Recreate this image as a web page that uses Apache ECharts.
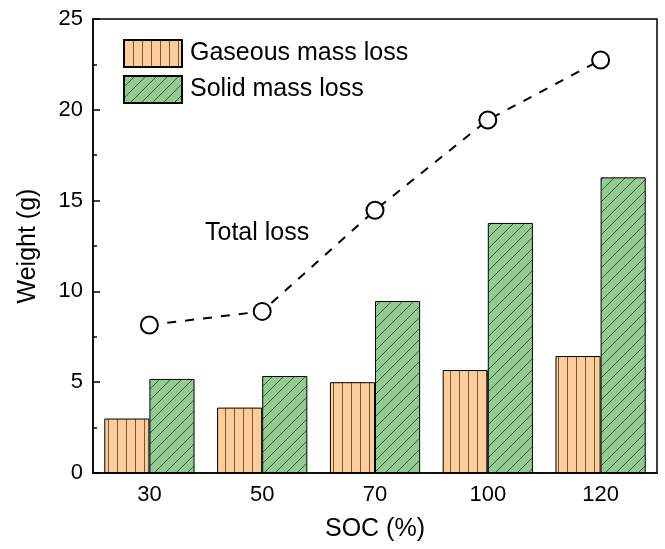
<!DOCTYPE html>
<html><head><meta charset="utf-8">
<script src="https://cdn.jsdelivr.net/npm/echarts@6/dist/echarts.min.js"></script>
<style>html,body{margin:0;padding:0;background:#fff}#c{width:665px;height:549px}</style>
</head><body><div id="c"></div>
<script>
const categories = ['30', '50', '70', '100', '120'];
const gaseous = [3.0, 3.6, 5.0, 5.67, 6.44];
const solid = [5.18, 5.34, 9.47, 13.77, 16.28];
const total = [8.15, 8.9, 14.47, 19.44, 22.74];
const yTicks = [0, 5, 10, 15, 20, 25];

function vertPattern() {
  const c = document.createElement('canvas');
  c.width = 9; c.height = 9;
  const g = c.getContext('2d');
  g.fillStyle = '#FECC99'; g.fillRect(0, 0, 9, 9);
  g.strokeStyle = '#6b5a48'; g.lineWidth = 1;
  g.beginPath(); g.moveTo(0.5, 0); g.lineTo(0.5, 9); g.stroke();
  return c;
}
function diagPattern() {
  const s = 11;
  const c = document.createElement('canvas');
  c.width = s; c.height = s;
  const g = c.getContext('2d');
  g.fillStyle = '#93CC93'; g.fillRect(0, 0, s, s);
  g.strokeStyle = '#3c5a3c'; g.lineWidth = 1;
  g.beginPath();
  g.moveTo(0, s); g.lineTo(s, 0);
  g.moveTo(-1, 1); g.lineTo(1, -1);
  g.moveTo(s - 1, s + 1); g.lineTo(s + 1, s - 1);
  g.stroke();
  return c;
}
const chart = echarts.init(document.getElementById('c'), null, {renderer: 'canvas'});
const font = 'Arial, "Liberation Sans", sans-serif';
chart.setOption({
  animation: false,
  textStyle: {fontFamily: font},
  grid: {left: 93, right: 8, top: 19, bottom: 76, show: true, borderColor: '#000', borderWidth: 1.5},
  legend: {
    data: ['Gaseous mass loss', 'Solid mass loss'],
    orient: 'vertical', left: 123, top: 39, padding: 0,
    itemWidth: 58, itemHeight: 27, itemGap: 7,
    textStyle: {fontSize: 25, color: '#000', fontFamily: font, padding: [0, 0, 0, 3]},
    icon: 'rect'
  },
  xAxis: {
    type: 'category', data: categories,
    name: 'SOC (%)', nameLocation: 'middle', nameGap: 44,
    nameTextStyle: {fontSize: 25, color: '#000'},
    axisLine: {lineStyle: {color: '#000', width: 1.5}},
    axisTick: {show: false},
    axisLabel: {fontSize: 22, color: '#000', margin: 11}
  },
  yAxis: {
    type: 'value', min: 0, max: 25, interval: 5,
    name: 'Weight (g)', nameLocation: 'middle', nameGap: 52,
    nameTextStyle: {fontSize: 25, color: '#000'},
    axisLine: {show: true, lineStyle: {color: '#000', width: 1.5}},
    axisTick: {show: true, inside: true, length: 7, lineStyle: {color: '#000', width: 1.5}},
    minorTick: {show: true, splitNumber: 2, length: 4, lineStyle: {color: '#000', width: 1.5}},
    splitLine: {show: false},
    axisLabel: {fontSize: 22, color: '#000', margin: 10,
      formatter: v => yTicks.includes(v) ? String(v) : ''}
  },
  graphic: [{type: 'text', left: 205, top: 221, style: {text: 'Total loss', fontSize: 25, fill: '#000', fontFamily: font}}],
  series: [
    {name: 'Gaseous mass loss', type: 'bar', data: gaseous, barGap: '0%', barCategoryGap: '20%',
     itemStyle: {color: {image: vertPattern(), repeat: 'repeat'}, borderColor: '#000', borderWidth: 1}},
    {name: 'Solid mass loss', type: 'bar', data: solid, barGap: '0%', barCategoryGap: '20%',
     itemStyle: {color: {image: diagPattern(), repeat: 'repeat'}, borderColor: '#000', borderWidth: 1}},
    {name: 'Total loss', type: 'line', data: total, symbol: 'circle', symbolSize: 17,
     itemStyle: {color: '#fff', borderColor: '#000', borderWidth: 2},
     lineStyle: {color: '#000', width: 2, type: [9, 9]}, z: 5}
  ]
});
</script></body></html>
